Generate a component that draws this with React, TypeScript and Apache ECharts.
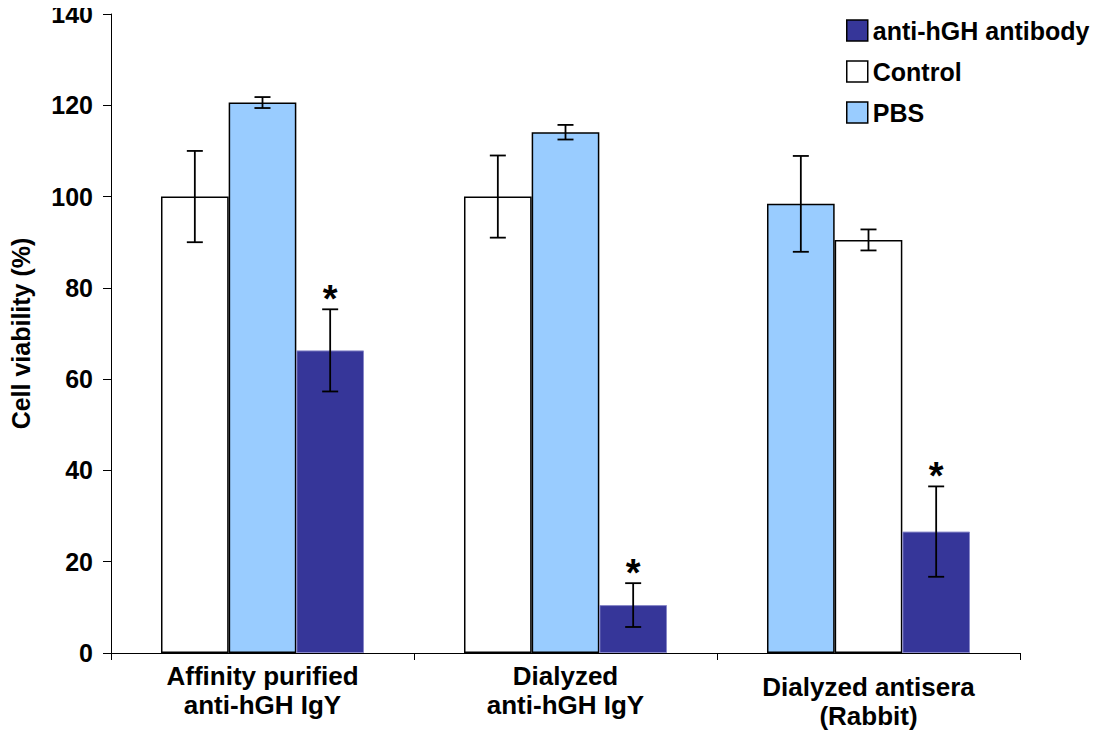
import React, { useEffect, useRef } from "react";
import * as echarts from "echarts";

const categories = [
  "Affinity purified\nanti-hGH IgY",
  "Dialyzed\nanti-hGH IgY",
  "Dialyzed antisera\n(Rabbit)",
];
const yTicks = [0, 20, 40, 60, 80, 100, 120, 140];

const controlValues = [100, 100, 90.5];
const controlErrors = [10, 9, 2.3];
const pbsValues = [120.6, 114.1, 98.4];
const pbsErrors = [1.2, 1.6, 10.5];
const antibodyValues = [66.3, 10.5, 26.6];
const antibodyErrors = [9, 4.8, 9.9];
const antibodyStars = [true, true, true];

// bar slot (0 = left, 1 = middle, 2 = right) per group
const controlSlots = [0, 0, 1];
const pbsSlots = [1, 1, 0];
const antibodySlots = [2, 2, 2];

const FONT = 'Arial, "Liberation Sans", sans-serif';
const WHITE = "#ffffff";
const BLUE = "#99ccff";
const DARK = "#363699";

const whiteStyle = { color: WHITE, borderColor: "#000", borderWidth: 1.5 };
const blueStyle = { color: BLUE, borderColor: "#000", borderWidth: 1.5 };
const darkStyle = { color: DARK, borderColor: "#8888c8", borderWidth: 1 };

const CAT_GAP = 0.33;

export default function App() {
  const ref = useRef<HTMLDivElement>(null);
  useEffect(() => {
    if (!ref.current) return;
    const chart = echarts.init(ref.current, null, { renderer: "svg" });

    const slotData = (slot: number) =>
      categories.map((_, i) => {
        if (controlSlots[i] === slot) return { value: controlValues[i], itemStyle: whiteStyle };
        if (pbsSlots[i] === slot) return { value: pbsValues[i], itemStyle: blueStyle };
        return { value: antibodyValues[i], itemStyle: darkStyle };
      });

    const errData: any[] = [];
    categories.forEach((_, i) => {
      errData.push([i, controlValues[i], controlErrors[i], controlSlots[i], 0]);
      errData.push([i, pbsValues[i], pbsErrors[i], pbsSlots[i], 0]);
      errData.push([i, antibodyValues[i], antibodyErrors[i], antibodySlots[i], antibodyStars[i] ? 1 : 0]);
    });

    const option: any = {
      animation: false,
      backgroundColor: "#fff",
      grid: { left: 111, right: 84, top: 14, bottom: 85, containLabel: false },
      legend: {
        orient: "vertical",
        left: 841,
        top: 13,
        itemWidth: 21,
        itemHeight: 21,
        itemGap: 16,
        icon: "rect",
        selectedMode: false,
        textStyle: { fontFamily: FONT, fontWeight: "bold", fontSize: 25, color: "#000", lineHeight: 25, padding: [0, 0, 0, 0] },
        data: [
          { name: "anti-hGH antibody", itemStyle: { color: DARK, borderColor: "#000", borderWidth: 1.5 } },
          { name: "Control", itemStyle: { color: WHITE, borderColor: "#000", borderWidth: 1.5 } },
          { name: "PBS", itemStyle: { color: BLUE, borderColor: "#000", borderWidth: 1.5 } },
        ],
      },
      xAxis: {
        type: "category",
        data: categories.map((c, i) =>
          i === 2 ? { value: c, textStyle: { padding: [11, 0, 0, 0] } } : c
        ),
        axisLine: { lineStyle: { color: "#000", width: 1 } },
        axisTick: { show: true, length: 7, inside: false, lineStyle: { color: "#000" } },
        axisLabel: {
          interval: 0,
          margin: 8,
          fontFamily: FONT,
          fontWeight: "bold",
          fontSize: 26,
          lineHeight: 29,
          color: "#000",
        },
      },
      yAxis: {
        type: "value",
        min: 0,
        max: yTicks[yTicks.length - 1],
        interval: 20,
        name: "Cell viability (%)",
        nameLocation: "middle",
        nameGap: 78,
        nameTextStyle: { fontFamily: FONT, fontWeight: "bold", fontSize: 25, color: "#000" },
        axisLine: { show: true, lineStyle: { color: "#000", width: 1 } },
        axisTick: { show: true, length: 8, lineStyle: { color: "#000" } },
        splitLine: { show: false },
        axisLabel: { margin: 18, fontFamily: FONT, fontWeight: "bold", fontSize: 25, color: "#000" },
      },
      series: [
        {
          name: "Control",
          type: "bar",
          barGap: "0%",
          barCategoryGap: CAT_GAP * 100 + "%",
          itemStyle: whiteStyle,
          data: slotData(0),
        },
        {
          name: "PBS",
          type: "bar",
          barGap: "0%",
          barCategoryGap: CAT_GAP * 100 + "%",
          itemStyle: blueStyle,
          data: slotData(1),
        },
        {
          name: "anti-hGH antibody",
          type: "bar",
          barGap: "0%",
          barCategoryGap: CAT_GAP * 100 + "%",
          itemStyle: darkStyle,
          data: slotData(2),
        },
        {
          name: "errors",
          type: "custom",
          z: 10,
          encode: { x: 0, y: 1 },
          data: errData,
          renderItem: (params: any, api: any) => {
            const cat = api.value(0);
            const val = api.value(1);
            const err = api.value(2);
            const slot = api.value(3);
            const star = api.value(4);
            const band = api.size([1, 0])[0];
            const barW = (band * (1 - CAT_GAP)) / 3;
            const center = api.coord([cat, val]);
            const x = center[0] + (slot - 1) * barW;
            const yTop = api.coord([cat, val + err])[1];
            const yBot = api.coord([cat, val - err])[1];
            const cap = 8;
            const ls = { stroke: "#000", lineWidth: 1.8 };
            const children: any[] = [
              { type: "line", shape: { x1: x, y1: yTop, x2: x, y2: yBot }, style: ls },
              { type: "line", shape: { x1: x - cap, y1: yTop, x2: x + cap, y2: yTop }, style: ls },
              { type: "line", shape: { x1: x - cap, y1: yBot, x2: x + cap, y2: yBot }, style: ls },
            ];
            if (star) {
              children.push({
                type: "text",
                x: x,
                y: yTop - 10,
                style: {
                  text: "*",
                  fontFamily: FONT,
                  fontWeight: "bold",
                  fontSize: 38,
                  fill: "#000",
                  align: "center",
                  verticalAlign: "middle",
                },
              });
            }
            return { type: "group", children };
          },
        },
      ],
    };
    chart.setOption(option);
    return () => chart.dispose();
  }, []);
  return <div ref={ref} style={{ width: 1104, height: 738, margin: -8 }} />;
}
